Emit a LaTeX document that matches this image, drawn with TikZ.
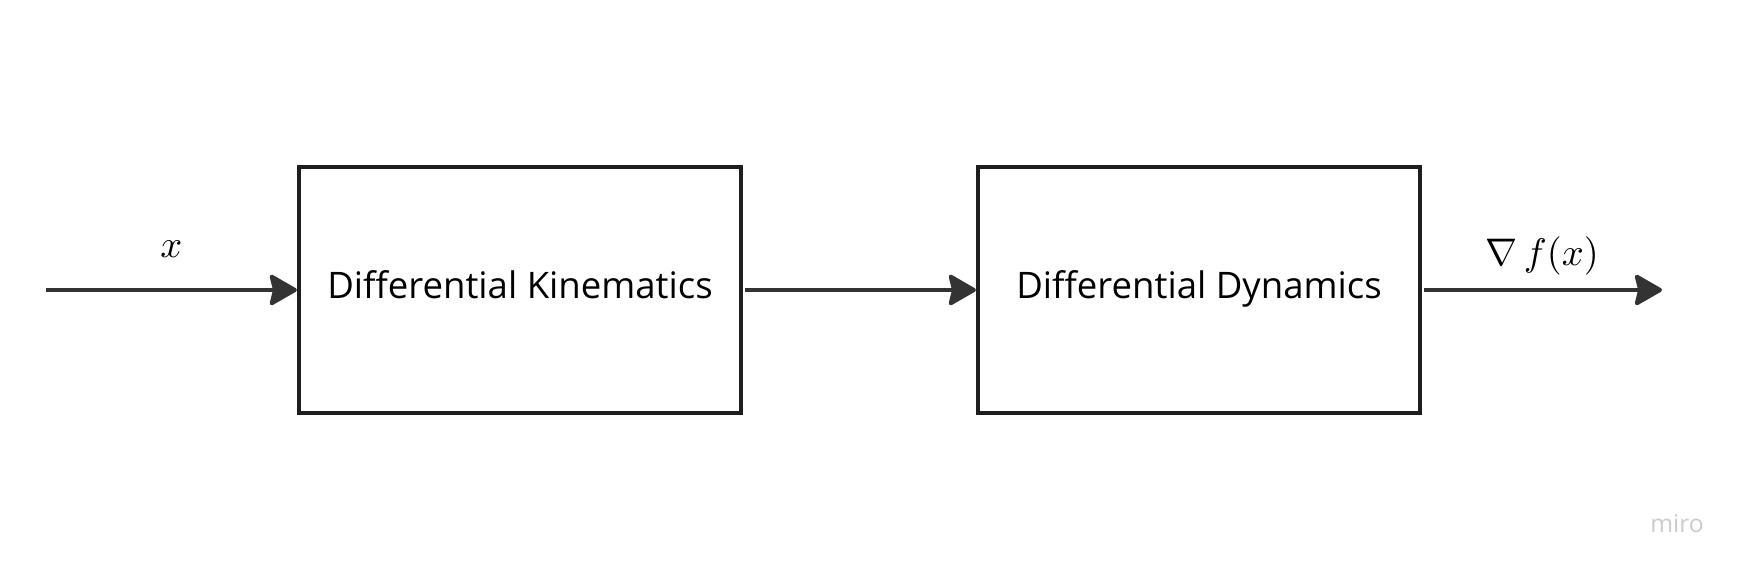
\documentclass[tikz,border=0pt]{standalone}
\usepackage[no-math]{fontspec}
\setmainfont{Open Sans}
\usepackage{tikz}
\usetikzlibrary{arrows.meta, positioning}

\definecolor{boxline}{HTML}{1E1E1E}
\definecolor{arrowline}{HTML}{333333}
\definecolor{watermark}{HTML}{C9CBD4}

\begin{document}
\begin{tikzpicture}[
block/.style={rectangle, draw=boxline, line width=1.2pt, minimum width=4.42cm, minimum height=2.46cm, inner sep=0, text height=7.4pt, text depth=2.5pt, align=center, font=\fontsize{10.4}{12}\selectfont},
flow/.style={draw=arrowline, line width=1.15pt, -{Stealth[length=0.30cm, width=0.34cm, inset=0.04cm, round]}},
sig/.style={font=\fontsize{11}{13}\selectfont},
]
\useasboundingbox (0,0) rectangle (17.44,-5.73);

% Blocks
\node[block] (kin) at (5.20,-2.90) {Differential Kinematics};
\node[block] (dyn) at (11.99,-2.90) {Differential Dynamics};

% Free ends of the signal line
\coordinate (start) at (0.46,-2.90);
\coordinate (stop) at (16.62,-2.90);

% Signals
\draw[flow] (start) to node[sig, above=0.19cm] {$x$} (kin);
\draw[flow, shorten <=0.5pt] (kin) to (dyn);
\draw[flow, shorten <=0.5pt] (dyn) to node[sig, above=0.01cm] {$\nabla\, f(x)$} (stop);

% Watermark
\node[text=watermark, font=\fontsize{7}{8}\selectfont] (miro) at (16.77,-5.24) {miro};

\end{tikzpicture}
\end{document}
